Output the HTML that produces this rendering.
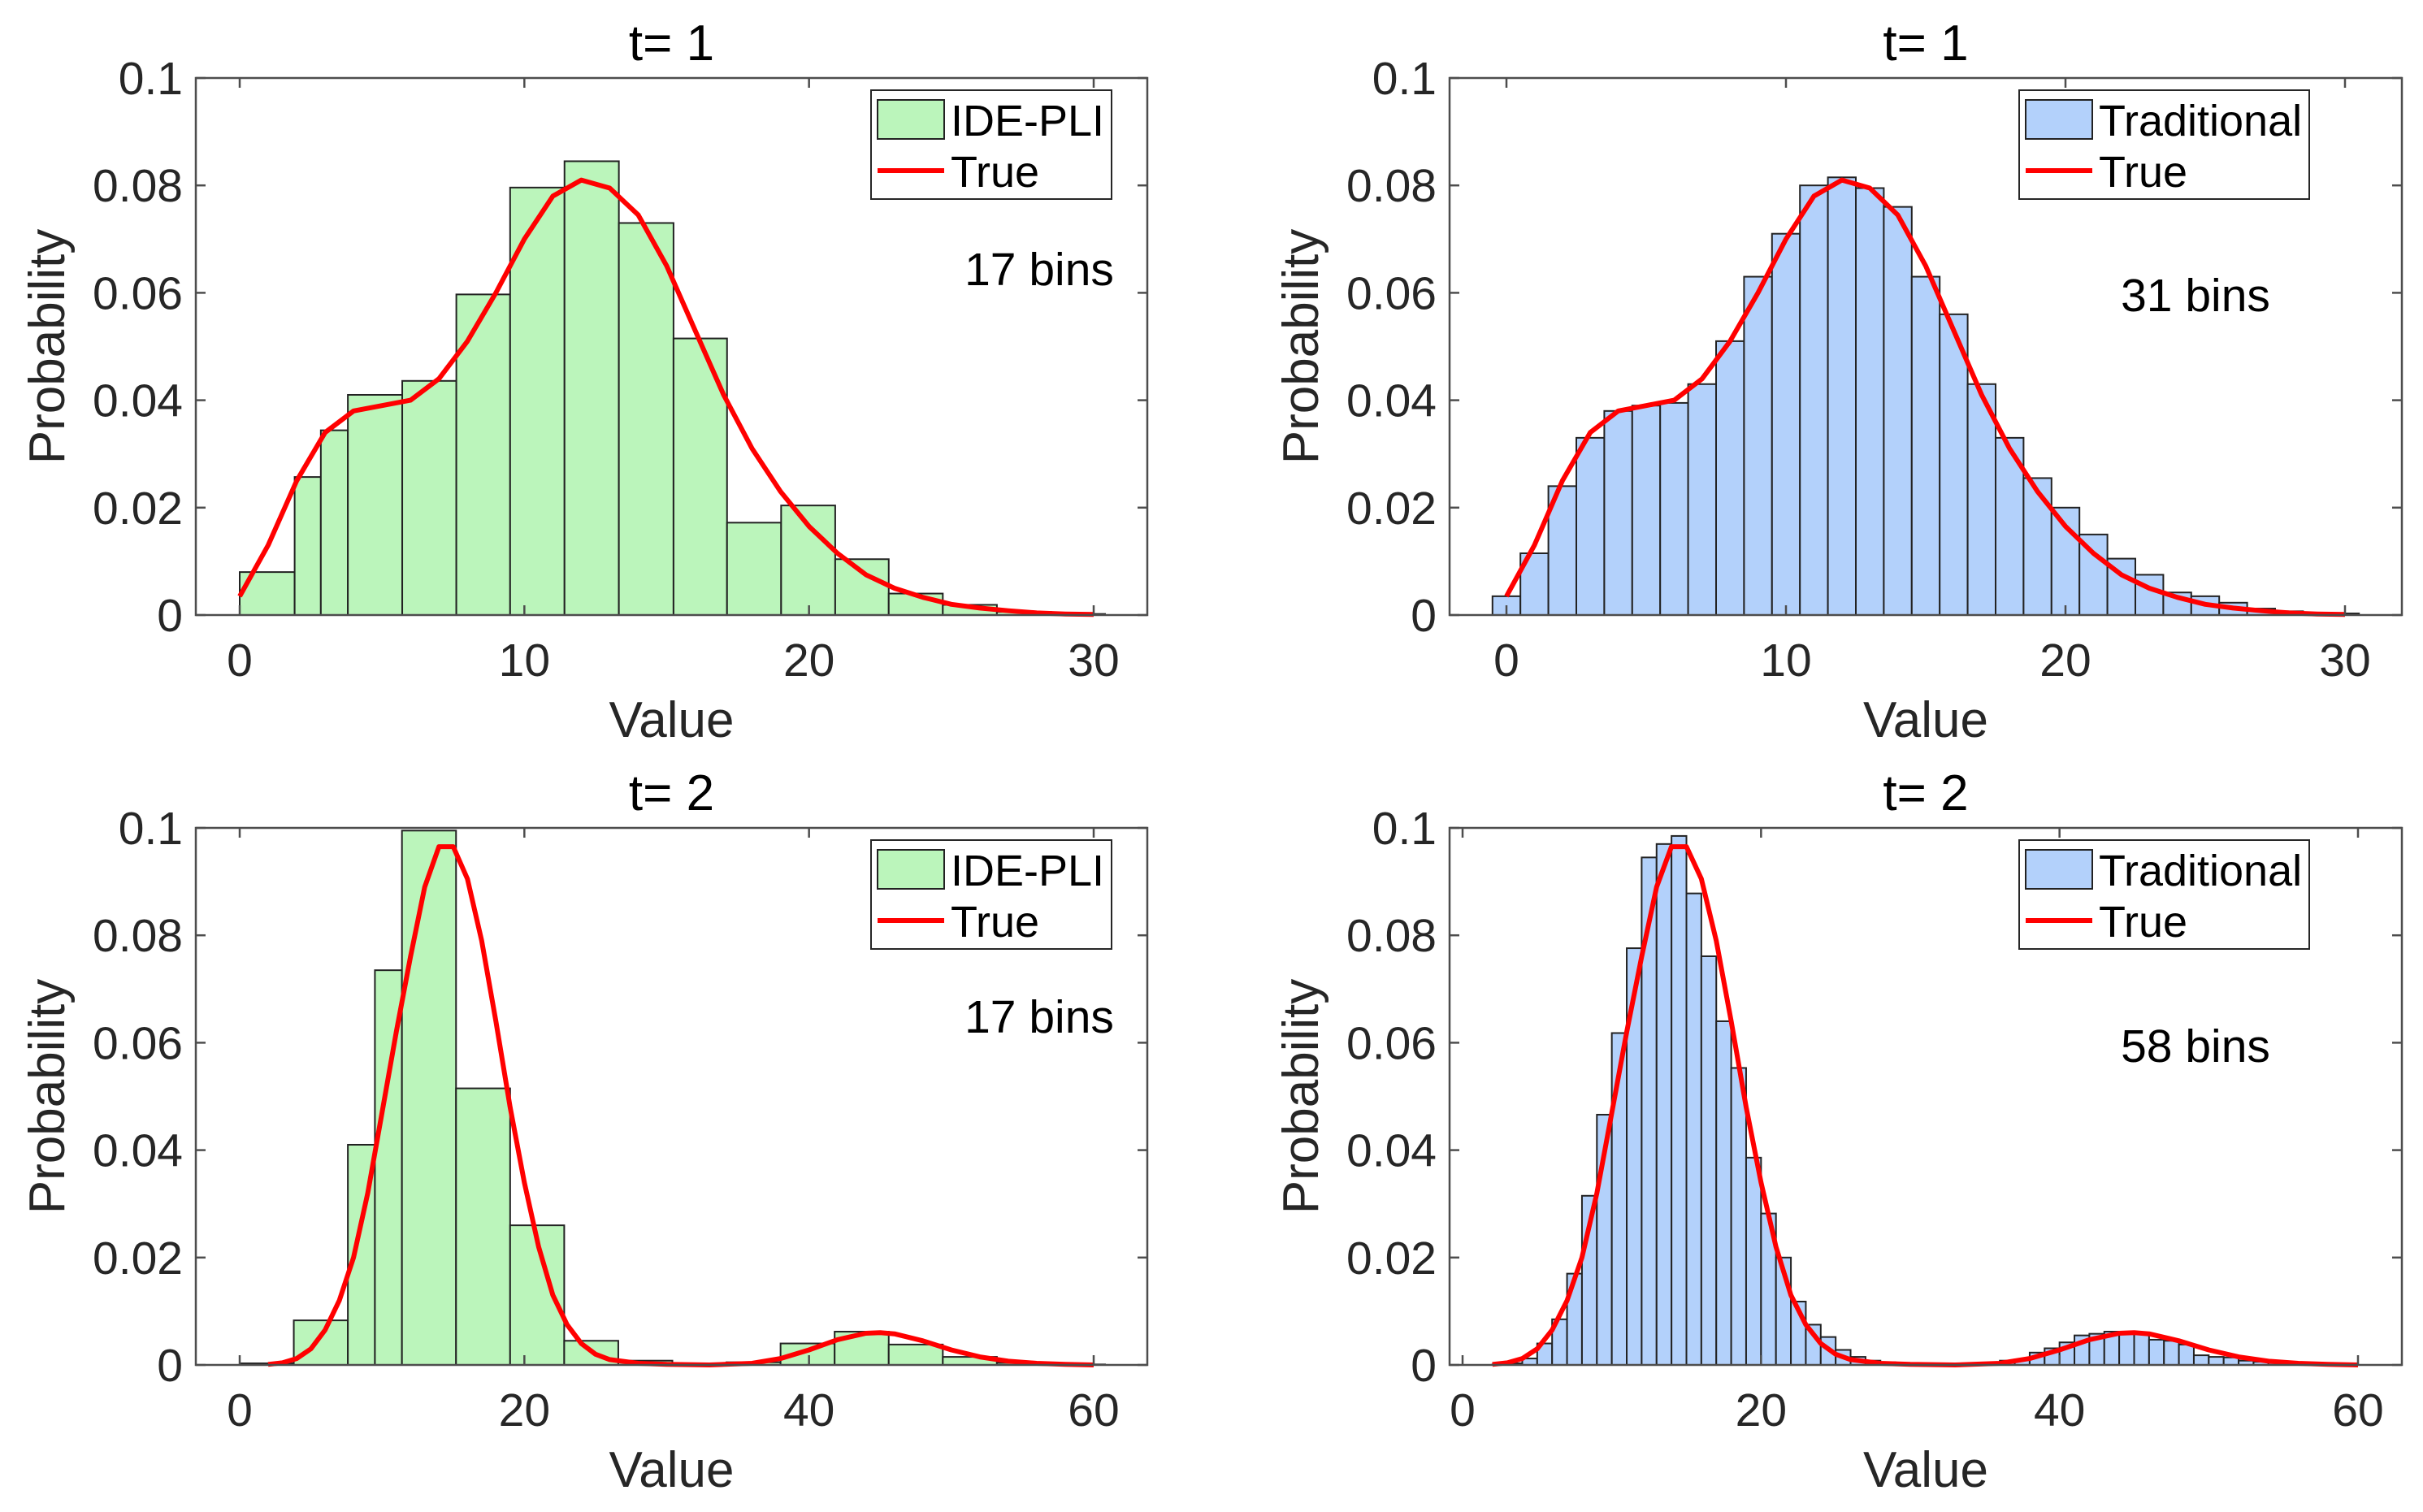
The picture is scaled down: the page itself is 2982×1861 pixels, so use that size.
<!DOCTYPE html>
<html><head><meta charset="utf-8">
<style>
html,body{margin:0;padding:0;background:#fff;}
svg{display:block;font-family:"Liberation Sans",Arial,sans-serif;}
</style></head>
<body>
<svg id="fig" width="2982" height="1861" viewBox="0 0 2982 1861" xmlns="http://www.w3.org/2000/svg"></svg>
<script>
// ---------- DATA ----------
const aEdges = [0,1.93,2.85,3.8,5.71,7.61,9.5,11.41,13.32,15.24,17.12,19.02,20.92,22.8,24.7,26.6,28.5,30.4];
const aHeights = [0.008,0.0257,0.0344,0.041,0.0436,0.0597,0.0796,0.0845,0.073,0.0515,0.0172,0.0204,0.0104,0.004,0.0019,0.0006,0.0002];
const bEdges = [-0.5,0.5,1.5,2.5,3.5,4.5,5.5,6.5,7.5,8.5,9.5,10.5,11.5,12.5,13.5,14.5,15.5,16.5,17.5,18.5,19.5,20.5,21.5,22.5,23.5,24.5,25.5,26.5,27.5,28.5,29.5,30.5];
const bHeights = [0.0035,0.0115,0.024,0.033,0.038,0.039,0.0395,0.043,0.051,0.063,0.071,0.080,0.0815,0.0795,0.076,0.063,0.056,0.043,0.033,0.0255,0.020,0.015,0.0105,0.0075,0.0042,0.0035,0.0023,0.0012,0.0007,0.0003,0.0003];
const t1X = [0,1,2,3,4,5,6,7,8,9,10,11,12,13,14,15,16,17,18,19,20,21,22,23,24,25,26,27,28,29,30];
const t1Y = [0.0035,0.013,0.025,0.034,0.038,0.039,0.040,0.044,0.051,0.060,0.070,0.078,0.081,0.0795,0.0745,0.065,0.053,0.041,0.031,0.023,0.0165,0.0115,0.0075,0.005,0.0033,0.002,0.0013,0.0008,0.0004,0.0002,0.0001];
const cEdges = [0,3.8,7.6,9.5,11.4,15.2,19,22.8,26.6,30.4,34.2,38,41.8,45.6,49.4,53.2,57,60.8];
const cHeights = [0.0003,0.0083,0.041,0.0735,0.0995,0.0515,0.026,0.0045,0.0008,0.0002,0.0005,0.004,0.0062,0.0038,0.0015,0.0004,0.0001];
const dEdges = [2,3,4,5,6,7,8,9,10,11,12,13,14,15,16,17,18,19,20,21,22,23,24,25,26,27,28,29,30,31,32,33,34,35,36,37,38,39,40,41,42,43,44,45,46,47,48,49,50,51,52,53,54,55,56,57,58,59,60];
const dHeights = [0.0001,0.0003,0.0012,0.004,0.0085,0.017,0.0315,0.0466,0.0618,0.0776,0.0945,0.097,0.0985,0.0878,0.0761,0.064,0.0553,0.0386,0.0282,0.020,0.0118,0.0075,0.0052,0.0028,0.0015,0.0008,0.0005,0.0003,0.0002,0.0001,0.0001,0.0001,0.0002,0.0003,0.0008,0.001,0.0023,0.0031,0.0042,0.0055,0.0058,0.0062,0.0062,0.0058,0.0047,0.0045,0.0038,0.0018,0.0015,0.0014,0.0008,0.0006,0.0004,0.0002,0.0001,0.0001,0.0001,0.0001];
const t2X = [2,3,4,5,6,7,8,9,10,11,12,13,14,15,16,17,18,19,20,21,22,23,24,25,26,28,30,33,36,38,40,42,44,45,46,48,50,52,54,56,58,60];
const t2Y = [0.0001,0.0004,0.0012,0.003,0.0065,0.012,0.02,0.032,0.047,0.062,0.076,0.089,0.0965,0.0965,0.0905,0.079,0.064,0.048,0.034,0.022,0.013,0.0075,0.004,0.002,0.001,0.0003,0.0001,0.0,0.0003,0.0012,0.0028,0.0047,0.0059,0.006,0.0058,0.0045,0.0028,0.0015,0.0007,0.0003,0.0001,0.0];
const yTicks = [0,0.02,0.04,0.06,0.08,0.1];
const yTickLabels = ["0","0.02","0.04","0.06","0.08","0.1"];
const xTicks1 = [0,10,20,30];
const xTicks2 = [0,20,40,60];

// ---------- DRAW ----------
const NS="http://www.w3.org/2000/svg";
const svg=document.getElementById('fig');
function mk(tag,attrs,parent){const e=document.createElementNS(NS,tag);for(const k in attrs)e.setAttribute(k,attrs[k]);(parent||svg).appendChild(e);return e;}

const panels=[
 {id:'a',L:241,R:1412,T:96,B:757,x0:295,x1:1346,v0:0,v1:30,edges:aEdges,h:aHeights,cx:t1X,cy:t1Y,xt:xTicks1,title:'t= 1',leg:'IDE-PLI',fill:'#bbf5bb',lx:1072,lw:296,bins:'17 bins',bx:1279,by:331},
 {id:'b',L:1784,R:2956,T:96,B:757,x0:1854,x1:2886,v0:0,v1:30,edges:bEdges,h:bHeights,cx:t1X,cy:t1Y,xt:xTicks1,title:'t= 1',leg:'Traditional',fill:'#b3d1fb',lx:2485,lw:357,bins:'31 bins',bx:2702,by:363},
 {id:'c',L:241,R:1412,T:1019,B:1680,x0:295,x1:1346,v0:0,v1:60,edges:cEdges,h:cHeights,cx:t2X,cy:t2Y,xt:xTicks2,title:'t= 2',leg:'IDE-PLI',fill:'#bbf5bb',lx:1072,lw:296,bins:'17 bins',bx:1279,by:1251},
 {id:'d',L:1784,R:2956,T:1019,B:1680,x0:1800,x1:2902,v0:0,v1:60,edges:dEdges,h:dHeights,cx:t2X,cy:t2Y,xt:xTicks2,title:'t= 2',leg:'Traditional',fill:'#b3d1fb',lx:2485,lw:357,bins:'58 bins',bx:2702,by:1287}
];

panels.forEach(p=>{
  const g=mk('g',{});
  
  
  const X=v=>p.x0+(v-p.v0)*(p.x1-p.x0)/(p.v1-p.v0);
  const Y=v=>p.B-v/0.1*(p.B-p.T);
  for(let i=0;i<p.h.length;i++){
    const x=X(p.edges[i]), w=X(p.edges[i+1])-x, y=Y(p.h[i]);
    const r=mk('rect',{x:x,y:y,width:w,height:p.B-y,fill:p.fill,stroke:'#222','stroke-width':2},g);
    
    
  }
  const pts=p.cx.map((v,i)=>X(v).toFixed(1)+','+Y(p.cy[i]).toFixed(1)).join(' ');
  const pl=mk('polyline',{points:pts,fill:'none',stroke:'#ff0000','stroke-width':6,'stroke-linejoin':'round'},g);
  
  
  const bx=mk('rect',{x:p.L,y:p.T,width:p.R-p.L,height:p.B-p.T,fill:'none',stroke:'#4d4d4d','stroke-width':2.5},g);
  
  
  yTicks.forEach((t,i)=>{
    const y=Y(t);
    mk('line',{x1:p.L,y1:y,x2:p.L+12,y2:y,stroke:'#4d4d4d','stroke-width':2.5},g);
    mk('line',{x1:p.R,y1:y,x2:p.R-12,y2:y,stroke:'#4d4d4d','stroke-width':2.5},g);
    const tx=mk('text',{x:p.L-16,y:y+20,'text-anchor':'end','font-size':57,fill:'#262626'},g);
    tx.textContent=yTickLabels[i];
    
    
  });
  p.xt.forEach(t=>{
    const x=X(t);
    mk('line',{x1:x,y1:p.B,x2:x,y2:p.B-12,stroke:'#4d4d4d','stroke-width':2.5},g);
    mk('line',{x1:x,y1:p.T,x2:x,y2:p.T+12,stroke:'#4d4d4d','stroke-width':2.5},g);
    const tx=mk('text',{x:x,y:p.B+75,'text-anchor':'middle','font-size':57,fill:'#262626'},g);
    tx.textContent=String(t);
    
    
  });
  const cxm=(p.L+p.R)/2, cym=(p.T+p.B)/2;
  const xl=mk('text',{x:cxm,y:p.B+150,'text-anchor':'middle','font-size':62,fill:'#262626'},g);
  xl.textContent='Value';
  
  
  const yl=mk('text',{x:0,y:0,'text-anchor':'middle','font-size':62,fill:'#262626',transform:`translate(${p.L-162},${cym}) rotate(-90)`},g);
  yl.textContent='Probability';
  
  
  const tt=mk('text',{x:cxm,y:p.T-22,'text-anchor':'middle','font-size':62,fill:'#000'},g);
  tt.textContent=p.title;
  
  
  const lg=mk('g',{},g);
  
  
  const ly=p.T+15;
  mk('rect',{x:p.lx,y:ly,width:p.lw,height:134,fill:'#fff',stroke:'#262626','stroke-width':2},lg);
  mk('rect',{x:p.lx+8,y:ly+12,width:82,height:48,fill:p.fill,stroke:'#222','stroke-width':2},lg);
  mk('line',{x1:p.lx+8,y1:ly+99,x2:p.lx+90,y2:ly+99,stroke:'#ff0000','stroke-width':6},lg);
  const t1=mk('text',{x:p.lx+98,y:ly+56,'font-size':54,fill:'#000'},lg);
  t1.textContent=p.leg;
  
  
  const t2=mk('text',{x:p.lx+98,y:ly+119,'font-size':54,fill:'#000'},lg);
  t2.textContent='True';
  
  
  const bn=mk('text',{x:p.bx,y:p.by+20,'text-anchor':'middle','font-size':57,fill:'#000'},g);
  bn.textContent=p.bins;
  
  
});
</script>
</body></html>
